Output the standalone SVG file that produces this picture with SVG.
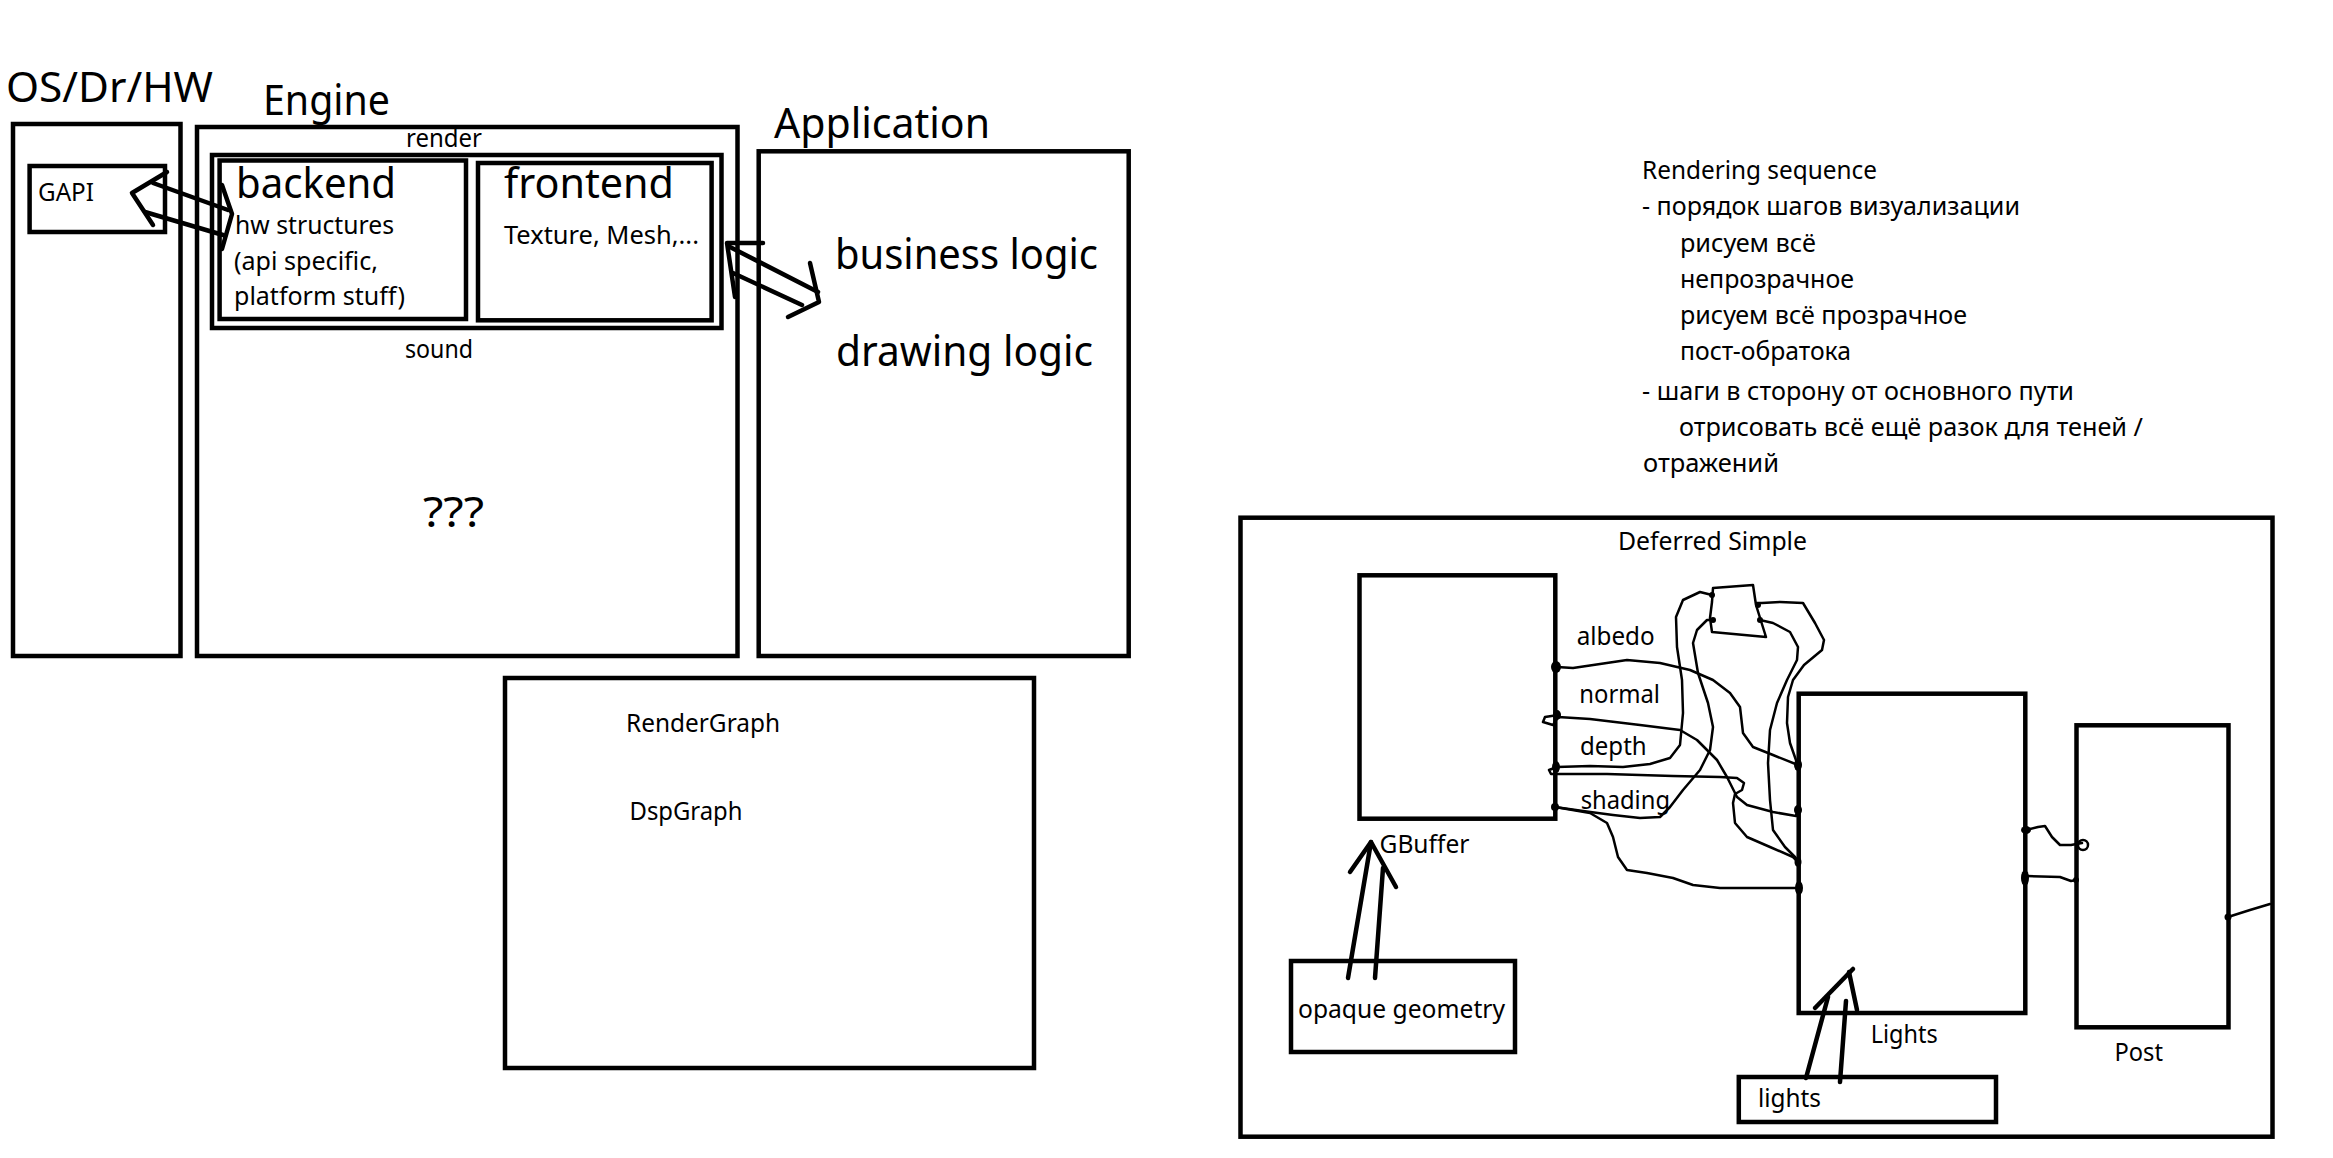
<svg xmlns="http://www.w3.org/2000/svg" width="2333" height="1158" viewBox="0 0 2333 1158">
<style>
.box{fill:none;stroke:#000;stroke-width:4.5}
.thin{fill:none;stroke:#000;stroke-width:2.5;stroke-linejoin:round;stroke-linecap:round}
.arr{fill:none;stroke:#000;stroke-width:4.5;stroke-linejoin:round;stroke-linecap:round}
.dot{fill:#000}
text{font-family:"Noto Sans","Liberation Sans",sans-serif;fill:#000}
.big{font-size:41px}
.sm{font-size:24.5px}
</style>
<rect width="2333" height="1158" fill="#fff"/>

<g id="os">
<text class="big" x="6" y="102" textLength="207" lengthAdjust="spacingAndGlyphs">OS/Dr/HW</text>
<rect class="box" x="13" y="124" width="167.5" height="532"/>
</g>
<g id="gapi">
<rect class="box" x="29.6" y="166" width="135.4" height="66"/>
<text class="sm" x="38" y="201" textLength="56" lengthAdjust="spacingAndGlyphs">GAPI</text>
</g>
<g id="engine">
<text class="big" x="263" y="115" textLength="127" lengthAdjust="spacingAndGlyphs">Engine</text>
<rect class="box" x="197" y="127" width="540.5" height="529"/>
<text class="sm" x="405" y="357.5" textLength="68" lengthAdjust="spacingAndGlyphs">sound</text>
<text x="423" y="527" font-size="42" textLength="61" lengthAdjust="spacingAndGlyphs">???</text>
</g>
<g id="render">
<text class="sm" x="406" y="147" textLength="76" lengthAdjust="spacingAndGlyphs">render</text>
<rect class="box" x="212" y="155" width="509.5" height="173"/>
</g>
<g id="backend">
<rect class="box" x="219.6" y="160.5" width="246.4" height="158.5"/>
<text class="big" x="236" y="198" textLength="160" lengthAdjust="spacingAndGlyphs">backend</text>
<text class="sm" x="235" y="234" textLength="159" lengthAdjust="spacingAndGlyphs">hw structures</text>
<text class="sm" x="234" y="270" textLength="144" lengthAdjust="spacingAndGlyphs">(api specific,</text>
<text class="sm" x="234" y="305" textLength="171" lengthAdjust="spacingAndGlyphs">platform stuff)</text>
</g>
<g id="frontend">
<rect class="box" x="478" y="163" width="233.6" height="157.3"/>
<text class="big" x="504" y="198" textLength="170" lengthAdjust="spacingAndGlyphs">frontend</text>
<text class="sm" x="504" y="244" textLength="195" lengthAdjust="spacingAndGlyphs">Texture, Mesh,...</text>
</g>
<g id="application">
<text class="big" x="774" y="138" textLength="216" lengthAdjust="spacingAndGlyphs">Application</text>
<rect class="box" x="758.7" y="151.3" width="370" height="504.7"/>
<text class="big" x="835" y="269" textLength="263" lengthAdjust="spacingAndGlyphs">business logic</text>
<text class="big" x="836" y="366" textLength="257" lengthAdjust="spacingAndGlyphs">drawing logic</text>
</g>
<g id="rendergraph">
<rect class="box" x="505" y="678" width="529" height="390"/>
<text class="sm" x="626" y="732" textLength="154" lengthAdjust="spacingAndGlyphs">RenderGraph</text>
<text class="sm" x="629.5" y="820" textLength="113" lengthAdjust="spacingAndGlyphs">DspGraph</text>
</g>

<g id="notes">
<text class="sm" x="1642" y="179" textLength="235" lengthAdjust="spacingAndGlyphs">Rendering sequence</text>
<text class="sm" x="1642" y="215" textLength="378" lengthAdjust="spacingAndGlyphs">- порядок шагов визуализации</text>
<text class="sm" x="1680" y="252" textLength="136" lengthAdjust="spacingAndGlyphs">рисуем всё</text>
<text class="sm" x="1680" y="288" textLength="174" lengthAdjust="spacingAndGlyphs">непрозрачное</text>
<text class="sm" x="1680" y="324" textLength="287" lengthAdjust="spacingAndGlyphs">рисуем всё прозрачное</text>
<text class="sm" x="1680" y="360" textLength="171" lengthAdjust="spacingAndGlyphs">пост-обратока</text>
<text class="sm" x="1642" y="400" textLength="432" lengthAdjust="spacingAndGlyphs">- шаги в сторону от основного пути</text>
<text class="sm" x="1679" y="436" textLength="464" lengthAdjust="spacingAndGlyphs">отрисовать всё ещё разок для теней /</text>
<text class="sm" x="1643" y="472" textLength="136" lengthAdjust="spacingAndGlyphs">отражений</text>
</g>

<g id="deferred">
<rect class="box" x="1240.5" y="517.7" width="1032" height="619"/>
<text class="sm" x="1618" y="550" textLength="189" lengthAdjust="spacingAndGlyphs">Deferred Simple</text>
</g>
<g id="gbuffer">
<rect class="box" x="1359.5" y="575.3" width="195.8" height="243.4"/>
<text class="sm" x="1379.5" y="853" textLength="90" lengthAdjust="spacingAndGlyphs">GBuffer</text>
<text class="sm" x="1576.7" y="645" textLength="78" lengthAdjust="spacingAndGlyphs">albedo</text>
<text class="sm" x="1579.3" y="702.7" textLength="80.7" lengthAdjust="spacingAndGlyphs">normal</text>
<text class="sm" x="1580" y="755" textLength="66.7" lengthAdjust="spacingAndGlyphs">depth</text>
<text class="sm" x="1580.7" y="809.3" textLength="89.3" lengthAdjust="spacingAndGlyphs">shading</text>
</g>
<g id="smallbox">
<path class="thin" d="M1713,588 L1753,585 L1756,605 L1766,637 L1712,632 L1710,618 L1712,602 Z"/>
</g>
<g id="lights-pass">
<rect class="box" x="1798.7" y="693.7" width="226.6" height="319.3"/>
<text class="sm" x="1870.7" y="1043" textLength="67" lengthAdjust="spacingAndGlyphs">Lights</text>
</g>
<g id="post">
<rect class="box" x="2076.5" y="725.3" width="152" height="302"/>
<text class="sm" x="2114.5" y="1061" textLength="48.5" lengthAdjust="spacingAndGlyphs">Post</text>
</g>
<g id="opaque">
<rect class="box" x="1291" y="961" width="224" height="91"/>
<text class="sm" x="1298" y="1018" textLength="207" lengthAdjust="spacingAndGlyphs">opaque geometry</text>
</g>
<g id="lights-input">
<rect class="box" x="1738.8" y="1077" width="257.2" height="45"/>
<text class="sm" x="1758" y="1107" textLength="63" lengthAdjust="spacingAndGlyphs">lights</text>
</g>

<g id="connectors">
<!-- GAPI <-> backend hollow arrow -->
<path class="arr" d="M167,172 L132,193 L153,225"/>
<path class="arr" d="M153,183 L228,210"/>
<path class="arr" d="M145,212 L223,235"/>
<path class="arr" d="M222,185 L232,214 L222,249"/>
<!-- frontend <-> Application hollow arrow -->
<path class="arr" d="M763,243 L727,243 L735,297"/>
<path class="arr" d="M730,247 L818,292"/>
<path class="arr" d="M733,273 L802,305"/>
<path class="arr" d="M810,263 L819,302 L788,317"/>
<!-- opaque geometry -> GBuffer -->
<path class="arr" d="M1348,978 L1371,842"/>
<path class="arr" d="M1375,978 L1383,868"/>
<path class="arr" d="M1350,872 L1371,842 L1396,887"/>
<!-- lights -> Lights -->
<path class="arr" d="M1806,1078 L1828,997"/>
<path class="arr" d="M1840,1082 L1846,1001"/>
<path class="arr" d="M1815,1008 L1853,969"/>
<path class="arr" d="M1849,972 L1857,1010"/>
<!-- GBuffer wires -->
<path class="thin" d="M1557,667 L1573,668 L1600,664 L1627,660 L1660,663 L1690,670 L1713,680 L1730,693 L1740,707 L1743,733 L1753,747 L1773,755 L1798,765"/>
<path class="thin" d="M1558,715 L1545,717 L1543,722 L1553,725 L1558,717 L1590,719 L1640,725 L1680,730 L1697,740 L1717,760 L1727,777 L1737,797 L1747,805 L1773,812 L1796,816 L1798,810"/>
<path class="thin" d="M1557,767 L1590,766 L1623,767 L1650,764 L1670,758 L1680,745 L1683,713 L1682,680 L1677,647 L1676,617 L1683,600 L1700,592 L1712,595"/>
<path class="thin" d="M1557,767 L1549,770 L1551,774 L1560,774 L1607,774 L1673,776 L1720,777 L1737,778 L1744,783 L1742,790 L1735,794 L1733,803 L1735,823 L1747,837 L1770,847 L1793,857 L1798,862"/>
<path class="thin" d="M1555,807 L1583,811 L1613,815 L1640,818 L1660,817 L1670,807 L1683,790 L1700,770 L1710,750 L1713,727 L1708,703 L1698,673 L1693,643 L1697,630 L1707,620 L1713,620"/>
<path class="thin" d="M1555,807 L1590,813 L1607,823 L1613,837 L1618,857 L1627,870 L1647,873 L1673,878 L1693,885 L1720,888 L1757,888 L1798,888"/>
<path class="thin" d="M1757,603 L1762,603 L1780,602 L1803,603 L1815,623 L1824,640 L1822,650 L1804,665 L1793,680 L1788,697 L1787,723 L1790,743 L1797,763"/>
<path class="thin" d="M1760,620 L1773,623 L1790,632 L1798,647 L1797,660 L1787,680 L1777,703 L1770,730 L1768,763 L1770,800 L1773,830 L1785,847 L1795,857 L1798,862"/>
<!-- Lights -> Post -->
<path class="thin" d="M2026,830 L2038,827 L2045,826 L2052,837 L2060,845 L2071,845 L2082,843"/>
<path class="thin" d="M2027,876 L2060,877 L2071,881 L2076,880"/>
<circle class="thin" cx="2083" cy="845" r="5"/>
<!-- Post -> out -->
<path class="thin" d="M2228,917 L2250,910 L2270,904"/>
<!-- port dots -->
<ellipse class="dot" cx="1556" cy="667" rx="5" ry="6"/>
<ellipse class="dot" cx="1557" cy="715" rx="4" ry="5"/>
<ellipse class="dot" cx="1556" cy="767" rx="4" ry="6"/>
<ellipse class="dot" cx="1555" cy="807" rx="4" ry="4"/>
<circle class="dot" cx="1712" cy="595" r="3"/>
<circle class="dot" cx="1713" cy="620" r="3"/>
<circle class="dot" cx="1758" cy="605" r="3"/>
<circle class="dot" cx="1760" cy="620" r="3"/>
<ellipse class="dot" cx="1798" cy="765" rx="4" ry="6"/>
<ellipse class="dot" cx="1798" cy="810" rx="4" ry="5"/>
<ellipse class="dot" cx="1798" cy="862" rx="3.5" ry="5"/>
<ellipse class="dot" cx="1799" cy="888" rx="4" ry="7"/>
<ellipse class="dot" cx="2026" cy="830" rx="5" ry="4"/>
<ellipse class="dot" cx="2025" cy="878" rx="4" ry="8"/>
<circle class="dot" cx="2076" cy="880" r="3"/>
<circle class="dot" cx="2228" cy="917" r="3.5"/>
</g>
</svg>
